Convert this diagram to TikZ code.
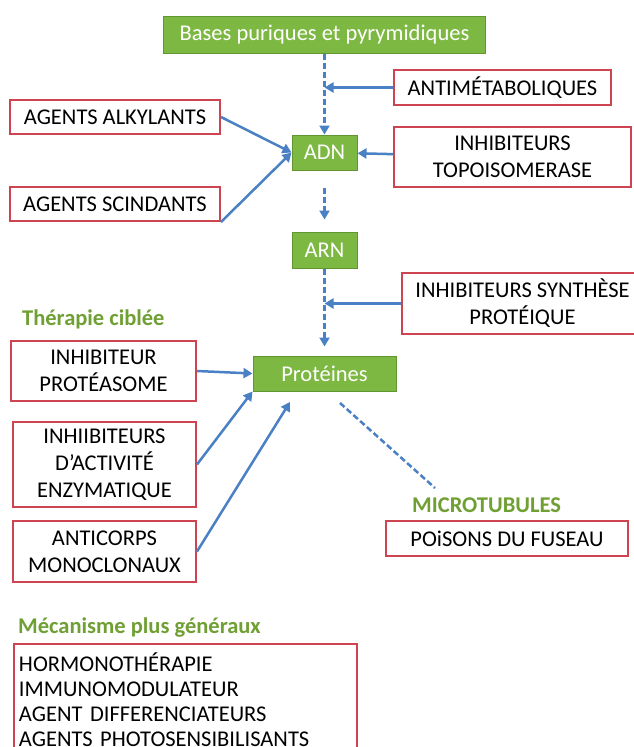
\documentclass[tikz,border=0pt]{standalone}
\usepackage{fontspec}
\setmainfont{Carlito}
\usetikzlibrary{arrows.meta}

\definecolor{boxgreen}{RGB}{125,184,67}
\definecolor{boxgreendark}{RGB}{98,150,50}
\definecolor{boxred}{RGB}{206,68,80}
\definecolor{arrowblue}{RGB}{74,128,196}
\definecolor{titlegreen}{RGB}{112,160,52}

\tikzset{
  greenbox/.style={draw=boxgreendark, line width=1pt, fill=boxgreen, text=white, inner sep=0pt, align=center},
  redbox/.style={draw=boxred, line width=2pt, fill=white, text=black, inner sep=0pt, align=center},
  headline/.style={text=titlegreen, font=\fontsize{22.5}{27}\selectfont\bfseries, anchor=west, inner sep=0pt},
  blue arrow/.style={draw=arrowblue, line width=2.5pt, -{Triangle[length=9pt,width=10pt]}},
  blue dash/.style={blue arrow, dash pattern=on 6pt off 3pt},
}

\begin{document}
\begin{tikzpicture}[x=1pt, y=-1pt, font=\fontsize{22.5}{27}\selectfont]
\useasboundingbox[fill=white] (0,0) rectangle (634,747);

% pathway
\node[greenbox, minimum width=322pt, minimum height=37pt] (bases) at (324.5,34.5) {Bases puriques et pyrymidiques};
\node[greenbox, minimum width=65pt, minimum height=35pt] (adn) at (324.5,152.5) {ADN};
\node[greenbox, minimum width=65pt, minimum height=36pt] (arn) at (324.5,250) {ARN};
\node[greenbox, minimum width=143pt, minimum height=35pt] (prot) at (324.5,373.5) {Protéines};

% drugs
\node[redbox, minimum width=217pt, minimum height=35pt] (antimet) at (502.5,87.5) {ANTIMÉTABOLIQUES};
\node[redbox, minimum width=210pt, minimum height=34pt] (alkyl) at (115,117) {AGENTS ALKYLANTS};
\node[redbox, minimum width=237pt, minimum height=60pt] (topo) at (512.5,157) {INHIBITEURS\\TOPOISOMERASE};
\node[redbox, minimum width=210pt, minimum height=34pt] (scind) at (115,204) {AGENTS SCINDANTS};
\node[redbox, minimum width=241pt, minimum height=61pt] (synth) at (522.5,303.5) {INHIBITEURS SYNTHÈSE\\PROTÉIQUE};

\node[headline] (ciblee) at (22,319) {Thérapie ciblée};
\node[redbox, minimum width=185pt, minimum height=60pt] (proteas) at (103.5,371) {INHIBITEUR\\PROTÉASOME};
\node[redbox, minimum width=183pt, minimum height=85pt] (enzym) at (104.5,464.5) {INHIIBITEURS\\D’ACTIVITÉ\\ENZYMATIQUE};
\node[redbox, minimum width=183pt, minimum height=61pt] (anticorps) at (104.5,551.5) {ANTICORPS\\MONOCLONAUX};

\node[headline] (microtub) at (412,505) {MICROTUBULES};
\node[redbox, minimum width=242pt, minimum height=35pt] (poisons) at (507,538.5) {POiSONS DU FUSEAU};

\node[headline] (mecanisme) at (18,628) {Mécanisme plus généraux};
\node[redbox, anchor=north west, align=left, text width=333pt, inner xsep=5pt, inner ysep=9pt,
      font=\fontsize{22.5}{24.8}\selectfont] (general) at (13,643)
  {HORMONOTHÉRAPIE\\IMMUNOMODULATEUR\\AGENT DIFFERENCIATEURS\\AGENTS PHOTOSENSIBILISANTS};

% junctions
\coordinate (jAnti) at (324.5,87.5);
\coordinate (jSynth) at (324.5,303.5);
\coordinate (pAnti) at (290,402);
\coordinate (mtStart) at (340,403);
\coordinate (mtEnd) at (435,488);

% connectors
\draw[blue dash] (bases) -- (adn);
\draw[blue arrow] (antimet) -- (jAnti);
\draw[blue arrow] (alkyl.east) -- (adn.west);
\draw[blue arrow] (scind.south east) -- (adn.west);
\draw[blue arrow] (topo) -- (adn);
\draw[blue dash, shorten <=17pt, shorten >=12pt] (adn) -- (arn);
\draw[blue dash, shorten >=9pt] (arn) -- (prot);
\draw[blue arrow] (synth) -- (jSynth);
\draw[blue arrow] (proteas.east) -- (prot.west);
\draw[blue arrow] (enzym.east) -- (prot.south west);
\draw[blue arrow] (anticorps.east) -- (pAnti);
\draw[arrowblue, line width=2.5pt, dash pattern=on 6pt off 3pt] (mtStart) -- (mtEnd);
\end{tikzpicture}
\end{document}
